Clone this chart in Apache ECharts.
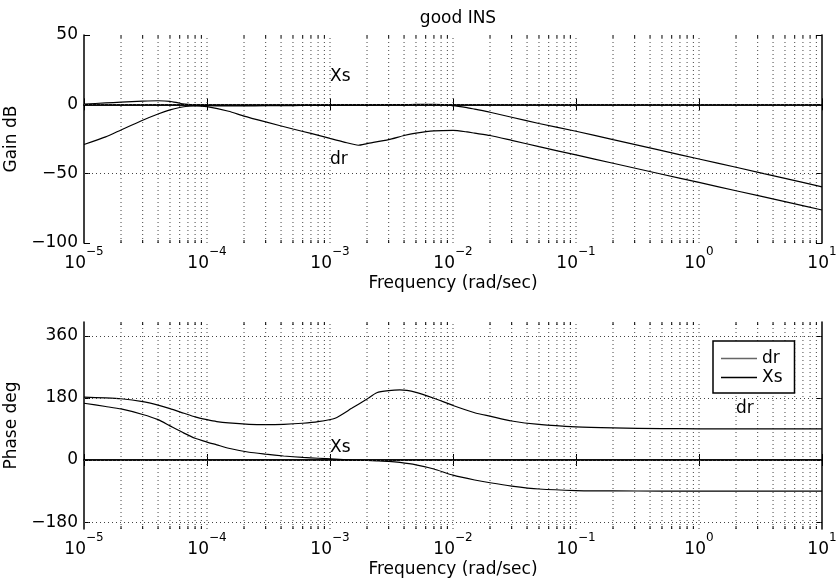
<!DOCTYPE html>
<html>
<head>
<meta charset="utf-8">
<script src="https://cdn.jsdelivr.net/npm/echarts/dist/echarts.min.js"></script>
<style>html,body{margin:0;padding:0;background:#fff;}#c{width:839px;height:584px;}</style>
</head>
<body>
<div id="c"></div>
<script>
// ---------- data ----------
const freqGain = [1e-5,1.5e-5,2e-5,3e-5,4e-5,5e-5,6e-5,7e-5,8e-5,1e-4,1.5e-4,2e-4,3e-4,5e-4,7e-4,1e-3,1.3e-3,1.7e-3,2e-3,3e-3,4e-3,5e-3,7e-3,1e-2,1.3e-2,1.5e-2,2e-2,3e-2,5e-2,1e-1,2e-1,5e-1,1,2,5,10];
const gainDr = [-29,-23.5,-18.5,-11.5,-7,-4,-2.3,-1.4,-1.1,-1.7,-5,-8.5,-12.7,-17.8,-21,-24.6,-27.2,-29.5,-28.3,-25.5,-22.5,-20.8,-19.2,-18.8,-19.9,-20.8,-22.5,-26,-30.5,-36.5,-42.5,-50.4,-56.3,-62.3,-70.2,-76.2];
const gainXs = [0.2,1.0,1.6,2.3,2.6,2.2,0.8,0,-0.6,-1.0,-1.1,-1.1,-1.0,-0.9,-0.8,-0.7,-0.6,-0.5,-0.5,-0.3,-0.2,-0.1,0,-0.9,-2.4,-3.5,-5.7,-9.3,-13.8,-19.4,-25.5,-33.4,-39.4,-45.4,-53.4,-59.5];

const freqPhase = [1e-5,1.5e-5,2e-5,3e-5,4e-5,5e-5,6.5e-5,8e-5,1e-4,1.2e-4,1.5e-4,2.2e-4,3e-4,4.2e-4,6e-4,8e-4,1.1e-3,1.5e-3,2e-3,2.4e-3,3e-3,3.7e-3,5e-3,7e-3,1e-2,1.5e-2,2e-2,3e-2,5e-2,1e-1,2e-1,5e-1,1,2,5,10];
const phaseDr = [182,180,177.5,169,159,149,135.5,125,117,111.5,107.5,103.5,102.5,103.5,106.5,111,121,149.7,177,195,201,203,196,179,158,137,127,113,103,96,93,91,90.5,90.2,90,90];
const phaseXs = [164.5,155,148,132,117,99,78,63,52,44,34,22.5,17,11.6,7.5,5,2.5,0,-1.5,-2.5,-4,-7,-14,-26,-44,-58,-66,-75.5,-84,-88.5,-89.5,-90,-90,-90,-90,-90];

const gainTicks = [-100,-50,0,50];
const phaseTicks = [-180,0,180,360];
// text annotations: [x, y, text]
const gainNotes = [[1e-3, 20, 'Xs'], [1e-3, -40, 'dr']];
const phaseNotes = [[1e-3, 36, 'Xs'], [2, 148, 'dr']];

// ---------- helpers ----------
const FONT = 'DejaVu Sans';
const gridFreqs = [];
for (let d = -5; d <= 0; d++) {
  for (let k = 1; k <= 9; k++) {
    if (d === -5 && k === 1) continue;
    gridFreqs.push(Number((k * Math.pow(10, d)).toPrecision(3)));
  }
}
const zip = (xs, ys) => xs.map((x, i) => [x, ys[i]]);

function supLabel(v) {
  const e = Math.round(Math.log10(v));
  return '{b|10}{s|' + (e < 0 ? '\u2212' + (-e) : e) + '}';
}
const richSup = {
  b: {fontSize: 17, fontFamily: FONT, color: '#000', verticalAlign: 'bottom', lineHeight: 26},
  s: {fontSize: 12, fontFamily: FONT, color: '#000', verticalAlign: 'top', lineHeight: 26}
};

function xAxes(gridIndex) {
  return [{
    type: 'log', logBase: 10, gridIndex, min: 1e-5, max: 10, interval: 1,
    position: 'bottom',
    axisLine: {show: true, lineStyle: {color: '#000', width: 1.5}},
    axisTick: {show: true, inside: true, length: 6, lineStyle: {color: '#000'}},
    splitLine: {show: false},
    axisLabel: {show: true, margin: 3, formatter: supLabel, rich: richSup},
    name: 'Frequency (rad/sec)', nameLocation: 'middle', nameGap: 32,
    nameTextStyle: {fontSize: 17, fontFamily: FONT, color: '#000'}
  }, {
    type: 'log', logBase: 10, gridIndex, min: 1e-5, max: 10, interval: 1,
    position: 'top',
    axisLine: {show: true, lineStyle: {color: '#000', width: 1.5}},
    axisTick: {show: true, inside: true, length: 6, lineStyle: {color: '#000'}},
    splitLine: {show: false}, axisLabel: {show: false}
  }];
}
function yAxes(gridIndex, min, max, ticks, name, gap) {
  const fmt = v => String(v).replace('-', '\u2212');
  return [{
    type: 'value', gridIndex, min, max, position: 'left',
    axisLine: {show: true, lineStyle: {color: '#000', width: 1.5}},
    axisTick: {show: true, inside: true, length: 6, customValues: ticks, lineStyle: {color: '#000'}},
    axisLabel: {customValues: ticks, formatter: fmt, fontSize: 17, fontFamily: FONT, color: '#000', margin: 6},
    splitLine: {show: false},
    name, nameLocation: 'middle', nameGap: gap,
    nameTextStyle: {fontSize: 17, fontFamily: FONT, color: '#000'}
  }, {
    type: 'value', gridIndex, min, max, position: 'right',
    axisLine: {show: true, lineStyle: {color: '#000', width: 1.5}},
    axisTick: {show: true, inside: true, length: 6, customValues: ticks, lineStyle: {color: '#000'}},
    axisLabel: {show: false}, splitLine: {show: false}
  }];
}

// horizontal dotted grid at major y ticks
function hLines(hTicks, min, max) {
  return {silent: true, symbol: 'none', label: {show: false},
    lineStyle: {color: '#444', width: 1, type: [1, 3]},
    data: hTicks.filter(t => t > min && t < max).map(t => ({yAxis: t})), animation: false};
}
// vertical dotted grid at every decade sub-division, plus minor ticks
function vGrid(xi, yi, yMin, yMax) {
  return {
    type: 'custom', xAxisIndex: xi, yAxisIndex: yi, silent: true, z: 1,
    data: gridFreqs.map(v => [v, yMin]),
    encode: {x: 0, y: 1},
    renderItem: function (params, api) {
      const x = api.value(0);
      const p1 = api.coord([x, yMin]);
      const p2 = api.coord([x, yMax]);
      const isMajor = Math.abs(Math.log10(x) - Math.round(Math.log10(x))) < 1e-6;
      const children = [{
        type: 'line', shape: {x1: p1[0], y1: p1[1], x2: p2[0], y2: p2[1]},
        style: {stroke: '#444', lineWidth: 1, lineDash: [1, 3]}
      }];
      if (!isMajor) {
        children.push({type: 'line', shape: {x1: p1[0], y1: p1[1], x2: p1[0], y2: p1[1] - 3}, style: {stroke: '#000', lineWidth: 1}});
        children.push({type: 'line', shape: {x1: p2[0], y1: p2[1], x2: p2[0], y2: p2[1] + 3}, style: {stroke: '#000', lineWidth: 1}});
      }
      return {type: 'group', children};
    }
  };
}

function curve(name, xi, yi, xs, ys, extra) {
  return Object.assign({
    name, type: 'line', xAxisIndex: xi, yAxisIndex: yi,
    data: zip(xs, ys), showSymbol: false, symbol: 'none', smooth: 0.2,
    lineStyle: {color: '#000', width: 1.2}, itemStyle: {color: '#000'}, z: 3
  }, extra || {});
}
function notes(xi, yi, arr) {
  return {
    type: 'scatter', name: 'notes', xAxisIndex: xi, yAxisIndex: yi, symbolSize: 0,
    itemStyle: {opacity: 1},
    data: arr.map(a => ({value: [a[0], a[1]], label: {formatter: a[2]}})),
    label: {show: true, position: 'right', distance: 0, fontSize: 17, fontFamily: FONT, color: '#000'},
    silent: true, z: 4
  };
}

const chart = echarts.init(document.getElementById('c'), null, {renderer: 'canvas'});
chart.setOption({
  animation: false,
  backgroundColor: '#fff',
  title: {text: 'good INS', left: 453, textAlign: 'center', top: 5,
    textStyle: {fontSize: 17, fontWeight: 'normal', fontFamily: FONT, color: '#000'}},
  legend: {
    data: [{name: 'dr', itemStyle: {color: '#666'}}, {name: 'Xs', itemStyle: {color: '#000'}}],
    icon: 'rect',
    orient: 'vertical', left: 713, top: 341,
    itemWidth: 36, itemHeight: 1.6, itemGap: 2,
    padding: [9, 12, 7, 8],
    borderColor: '#000', borderWidth: 1.5, backgroundColor: '#fff',
    textStyle: {fontSize: 17, fontFamily: FONT, color: '#000'},
    selectedMode: false, z: 10
  },
  grid: [
    {left: 84, top: 35, width: 738, height: 208, containLabel: false, outerBoundsMode: 'none'},
    {left: 84, top: 322, width: 738, height: 207, containLabel: false, outerBoundsMode: 'none'}
  ],
  xAxis: [...xAxes(0), ...xAxes(1)],
  yAxis: [...yAxes(0, -100, 50, gainTicks, 'Gain dB', 46), ...yAxes(1, -200, 400, phaseTicks, 'Phase deg', 46)],
  series: [
    vGrid(0, 0, -100, 50),
    vGrid(2, 2, -200, 400),
    curve('dr', 0, 0, freqGain, gainDr, {markLine: hLines(gainTicks, -100, 50)}),
    curve('Xs', 0, 0, freqGain, gainXs),
    curve('dr', 2, 2, freqPhase, phaseDr, {markLine: hLines(phaseTicks, -200, 400)}),
    curve('Xs', 2, 2, freqPhase, phaseXs),
    notes(0, 0, gainNotes),
    notes(2, 2, phaseNotes)
  ]
});
</script>
</body>
</html>
